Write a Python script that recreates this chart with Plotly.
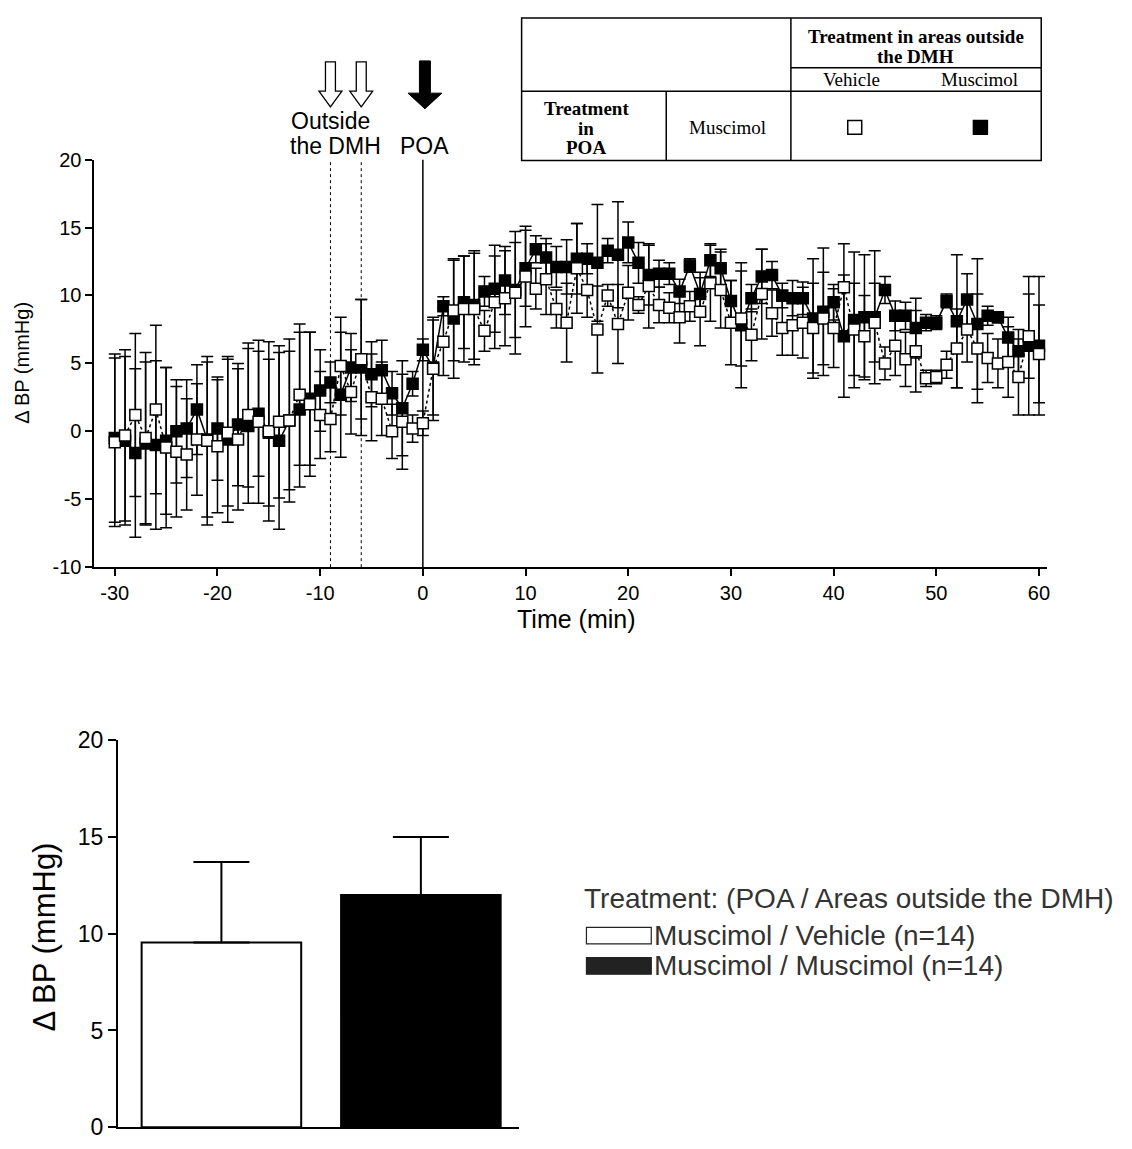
import plotly.graph_objects as go

W, H = 1132, 1149

# ---------------- data ----------------
minutes = list(range(-30, 61))

veh_mean = [
    -0.8, -0.3, 1.2, -0.5, 1.6, -1.2, -1.5, -1.7, -0.6, -0.7,
    -1.1, -0.1, -0.6, 1.2, 0.7, 0.0, 0.7, 0.8, 2.7, 2.0,
    1.2, 0.9, 4.8, 2.9, 5.3, 2.5, 2.4, 0.0, 0.7, 0.2,
    0.6,
    4.6, 6.6, 8.9, 9.0, 9.0, 7.4, 9.5, 9.8, 10.2, 11.4,
    10.5, 11.2, 9.0, 8.0, 12.0, 10.4, 7.5, 10.0, 7.9, 10.2,
    9.3, 10.7, 9.3, 9.1, 8.4, 9.2, 8.8, 10.9, 10.4, 8.0,
    8.3, 7.1, 10.1, 8.7, 7.6, 7.8, 8.0, 7.6, 8.3, 7.6,
    10.6, 7.5, 7.0, 8.0, 5.0, 6.3, 5.3, 5.9, 3.9, 4.0,
    4.9, 6.1, 7.5, 6.1, 5.4, 5.0, 5.1, 4.0, 7.0, 5.7,
]
mus_mean = [
    -0.5, -0.7, -1.6, -0.9, -1.0, -0.7, 0.0, 0.2, 1.6, -0.6,
    0.2, -0.6, 0.5, 0.4, 1.3, -0.1, -0.7, 0.8, 1.6, 2.4,
    3.0, 3.6, 2.7, 4.7, 4.7, 4.2, 4.5, 2.8, 1.7, 3.5,
    6.0,
    4.7, 9.2, 8.3, 9.5, 9.3, 10.3, 10.5, 11.1, 10.4, 12.0,
    13.4, 12.8, 12.1, 12.1, 12.7, 12.7, 12.4, 13.3, 13.0, 13.9,
    12.4, 11.5, 11.6, 11.6, 10.3, 12.2, 10.1, 12.6, 12.0, 9.6,
    7.8, 9.8, 11.4, 11.5, 10.0, 9.8, 9.8, 8.3, 8.8, 9.5,
    7.0, 8.2, 8.4, 8.4, 10.4, 8.5, 8.5, 7.6, 8.0, 8.0,
    9.6, 8.1, 9.7, 7.9, 8.5, 8.4, 6.9, 5.9, 6.3, 6.3,
]
veh_sem = [
    6.2, 6.3, 6.0, 6.3, 6.2, 5.9, 4.8, 4.1, 4.1, 6.2,
    4.9, 5.4, 5.2, 5.3, 6.0, 6.6, 5.6, 5.1, 5.2, 5.3,
    3.2, 2.4, 3.6, 3.1, 4.4, 3.2, 2.7, 2.0, 3.5, 1.0,
    0.9,
    3.8, 2.5, 3.7, 3.9, 4.1, 1.5, 3.4, 3.5, 4.5, 3.7,
    1.5, 2.6, 1.4, 2.9, 3.3, 2.0, 3.2, 0.8, 2.9, 2.0,
    0.6, 3.1, 1.3, 1.1, 1.9, 1.1, 2.5, 2.8, 2.8, 3.1,
    3.5, 1.9, 3.3, 1.7, 2.0, 2.2, 2.6, 3.3, 3.4, 2.9,
    3.2, 3.4, 3.0, 2.9, 1.2, 2.2, 2.0, 3.0, 0.6, 0.5,
    1.0, 2.9, 2.4, 4.0, 1.8, 1.8, 2.6, 2.8, 3.1, 3.6,
]
mus_sem = [
    6.2, 6.2, 6.2, 6.0, 6.2, 5.4, 3.8, 3.6, 3.3, 5.7,
    3.8, 6.1, 4.5, 5.7, 4.6, 5.4, 6.5, 6.0, 5.7, 4.9,
    3.0, 1.5, 4.6, 2.5, 5.0, 2.4, 2.2, 1.6, 3.5, 0.9,
    0.8,
    3.5, 0.7, 4.4, 3.4, 4.0, 1.1, 3.2, 2.5, 3.5, 2.8,
    1.0, 1.4, 1.5, 2.0, 2.6, 1.1, 4.3, 0.9, 3.9, 1.5,
    1.5, 2.2, 1.0, 0.8, 0.9, 0.5, 1.6, 1.2, 1.4, 1.5,
    4.6, 1.0, 2.0, 1.0, 0.9, 1.3, 1.2, 4.4, 4.7, 1.3,
    4.5, 5.0, 4.6, 4.9, 1.0, 1.1, 1.0, 2.2, 0.6, 0.5,
    0.5, 4.9, 1.9, 4.8, 0.7, 0.4, 1.5, 1.6, 5.1, 5.1,
]

x_ticks = [-30, -20, -10, 0, 10, 20, 30, 40, 50, 60]
x_ticklabels = ["-30", "-20", "-10", "0", "10", "20", "30", "40", "50", "60"]
y_ticks_top = [-10, -5, 0, 5, 10, 15, 20]
y_ticklabels_top = ["-10", "-5", "0", "5", "10", "15", "20"]
y_ticks_bar = [0, 5, 10, 15, 20]

groups = ["Muscimol / Vehicle (n=14)", "Muscimol / Muscimol (n=14)"]
bar_mean = [9.55, 12.0]
bar_sem = [4.15, 3.0]
bar_fill = ["white", "black"]

injections_dmh = [-9, -6]
injection_poa = 0


def px(v):
    return v / W


def py(v):
    return 1 - v / H


FONT = "Liberation Sans, Arial, sans-serif"
SERIF = "Liberation Serif, Times New Roman, serif"

fig = go.Figure()

# ---------------- top time course ----------------
fig.add_trace(go.Scatter(
    x=minutes, y=mus_mean, mode="lines+markers",
    line=dict(color="black", width=1.5),
    marker=dict(symbol="square", size=11, color="black",
                line=dict(color="black", width=1.5)),
    error_y=dict(type="data", array=mus_sem, color="black", thickness=1.5, width=6),
    xaxis="x", yaxis="y", showlegend=False,
))
fig.add_trace(go.Scatter(
    x=minutes, y=veh_mean, mode="lines+markers",
    line=dict(color="black", width=1.5, dash="dot"),
    marker=dict(symbol="square", size=11, color="white",
                line=dict(color="black", width=1.5)),
    error_y=dict(type="data", array=veh_sem, color="black", thickness=1.5, width=6),
    xaxis="x", yaxis="y", showlegend=False,
))

# ---------------- bottom bar chart ----------------
fig.add_trace(go.Bar(
    x=groups, y=bar_mean, width=0.8,
    marker=dict(color=bar_fill, line=dict(color="black", width=2)),
    error_y=dict(type="data", symmetric=False, array=bar_sem,
                 arrayminus=[0] * len(bar_sem), color="black",
                 thickness=2, width=28),
    xaxis="x2", yaxis="y2", showlegend=False,
))

axis_common = dict(showgrid=False, zeroline=False, showline=True,
                   linecolor="black", linewidth=1.5, ticks="outside",
                   tickcolor="black", tickwidth=1.5)

fig.update_layout(
    width=W, height=H,
    margin=dict(l=0, r=0, t=0, b=0),
    paper_bgcolor="white", plot_bgcolor="white",
    font=dict(family=FONT, color="black"),
    xaxis=dict(domain=[px(94.5), px(1050)], range=[-32.0, 60.8],
               tickvals=x_ticks, ticktext=x_ticklabels, ticklen=7, anchor="y",
               tickfont=dict(size=20, family=FONT), **axis_common),
    yaxis=dict(domain=[py(567), py(150)], range=[-10, 20],
               tickvals=y_ticks_top, ticktext=y_ticklabels_top, ticklen=7, anchor="x",
               tickfont=dict(size=20, family=FONT), **axis_common),
    xaxis2=dict(domain=[px(118), px(520)], anchor="y2", range=[-0.52, 1.49],
                showticklabels=False, showgrid=False, zeroline=False,
                showline=True, linecolor="black", linewidth=1.5, ticks=""),
    yaxis2=dict(domain=[py(1140), py(744)], range=[0, 20],
                tickvals=y_ticks_bar, ticklen=8, anchor="x2",
                tickfont=dict(size=23, family=FONT), **axis_common),
)

shapes = []
annotations = []

# vertical injection lines
for m in injections_dmh:
    shapes.append(dict(type="line", xref="x", yref="y", x0=m, x1=m, y0=-10, y1=20,
                       line=dict(color="black", width=1, dash="dot"), layer="below"))
shapes.append(dict(type="line", xref="x", yref="y", x0=injection_poa, x1=injection_poa,
                   y0=-10, y1=20, line=dict(color="black", width=1.5), layer="below"))

# arrows (x in data minutes, y in paper)
MIN_PX = 10.3


def arrow_path(c, shaft_hw, head_hw, top, head_start, tip):
    sw = shaft_hw / MIN_PX
    hw = head_hw / MIN_PX
    pts = [(c - sw, top), (c - sw, head_start), (c - hw, head_start), (c, tip),
           (c + hw, head_start), (c + sw, head_start), (c + sw, top)]
    return "M " + " L ".join(f"{x:.4f},{py(y):.5f}" for x, y in pts) + " Z"


for m in injections_dmh:
    shapes.append(dict(type="path", xref="x", yref="paper",
                       path=arrow_path(m, 5, 11.5, 50, 80, 96),
                       fillcolor="white", line=dict(color="black", width=1.3)))
shapes.append(dict(type="path", xref="x", yref="paper",
                   path=arrow_path(injection_poa + 0.2, 5.5, 17, 49, 82, 98),
                   fillcolor="black", line=dict(color="black", width=1)))

annotations.append(dict(text="Outside", x=-9.0, y=py(110), xref="x", yref="paper",
                        showarrow=False, xanchor="center", yanchor="middle",
                        font=dict(size=23, family=FONT)))
annotations.append(dict(text="the DMH", x=-8.5, y=py(136), xref="x", yref="paper",
                        showarrow=False, xanchor="center", yanchor="middle",
                        font=dict(size=23, family=FONT)))
annotations.append(dict(text="POA", x=0.2, y=py(136), xref="x", yref="paper",
                        showarrow=False, xanchor="center", yanchor="middle",
                        font=dict(size=23, family=FONT)))

# axis titles
annotations.append(dict(text="Δ BP (mmHg)", x=px(22), y=py(358), xref="paper", yref="paper",
                        textangle=-90, showarrow=False, xanchor="center", yanchor="middle",
                        font=dict(size=20, family=FONT)))
annotations.append(dict(text="Time (min)", x=px(578), y=py(620), xref="paper", yref="paper",
                        showarrow=False, xanchor="center", yanchor="middle",
                        font=dict(size=25, family=FONT)))
annotations.append(dict(text="Δ BP (mmHg)", x=px(45), y=py(945), xref="paper", yref="paper",
                        textangle=-90, showarrow=False, xanchor="center", yanchor="middle",
                        font=dict(size=31, family=FONT)))

# ---------------- table ----------------
TL, TR, TT, TB = 523, 1044, 5, 151
tline = dict(color="black", width=1.5)
shapes.append(dict(type="rect", xref="paper", yref="paper",
                   x0=px(TL), x1=px(TR), y0=py(TB), y1=py(TT), line=tline))
shapes.append(dict(type="line", xref="paper", yref="paper",
                   x0=px(793), x1=px(TR), y0=py(56), y1=py(56), line=tline))
shapes.append(dict(type="line", xref="paper", yref="paper",
                   x0=px(TL), x1=px(TR), y0=py(80), y1=py(80), line=tline))
shapes.append(dict(type="line", xref="paper", yref="paper",
                   x0=px(793), x1=px(793), y0=py(TB), y1=py(TT), line=tline))
shapes.append(dict(type="line", xref="paper", yref="paper",
                   x0=px(668), x1=px(668), y0=py(TB), y1=py(80), line=tline))


def tcell(text, cx, cy, size=19):
    annotations.append(dict(text=text, x=px(cx), y=py(cy), xref="paper", yref="paper",
                            showarrow=False, xanchor="center", yanchor="middle",
                            font=dict(size=size, family=SERIF)))


tcell("<b>Treatment in areas outside</b>", 918, 24, 19)
tcell("<b>the DMH</b>", 918, 44, 19)
tcell("Vehicle", 854, 68)
tcell("Muscimol", 982, 68)
tcell("<b>Treatment</b>", 588, 98)
tcell("<b>in</b>", 588, 118)
tcell("<b>POA</b>", 588, 138)
tcell("Muscimol", 729, 117)
for cx, fill in [(857, "white"), (983, "black")]:
    shapes.append(dict(type="rect", xref="paper", yref="paper",
                       x0=px(cx - 7), x1=px(cx + 7), y0=py(124), y1=py(110),
                       fillcolor=fill, line=dict(color="black", width=1.5)))

# ---------------- legend for bars ----------------
annotations.append(dict(text="Treatment: (POA / Areas outside the DMH)", x=px(584), y=py(906),
                        xref="paper", yref="paper", showarrow=False, xanchor="left",
                        yanchor="middle", font=dict(size=28, family=FONT, color="#333")))
leg_y = [944, 975]
leg_fill = ["white", "#222"]
for name, yy, fill in zip(groups, leg_y, leg_fill):
    shapes.append(dict(type="rect", xref="paper", yref="paper",
                       x0=px(588), x1=px(653), y0=py(yy + 8.5), y1=py(yy - 8.5),
                       fillcolor=fill, line=dict(color="#222", width=1.2)))
    annotations.append(dict(text=name, x=px(654), y=py(yy), xref="paper", yref="paper",
                            showarrow=False, xanchor="left", yanchor="middle",
                            font=dict(size=28, family=FONT, color="#333")))

fig.update_layout(shapes=shapes, annotations=annotations)
fig.write_html("out.html")
